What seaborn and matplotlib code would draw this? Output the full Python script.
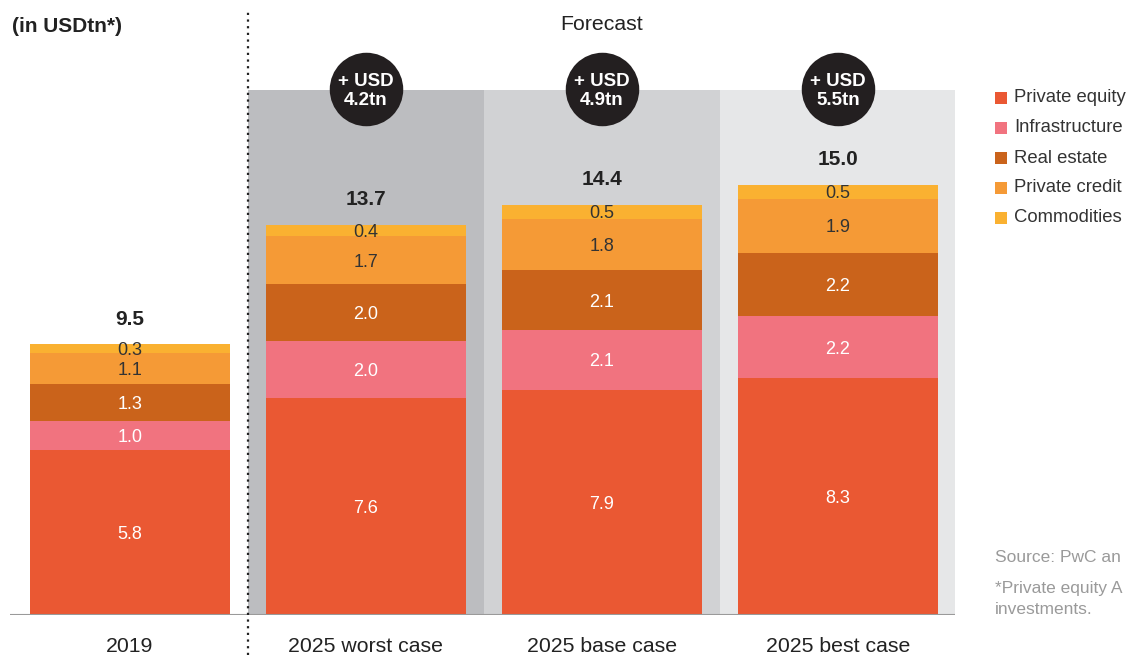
import numpy as np
import matplotlib
matplotlib.use("Agg")
import matplotlib.pyplot as plt
from matplotlib.patches import Rectangle
import seaborn as sns

# Assets under management by asset class (USD trillions)
categories = ["2019", "2025 worst case", "2025 base case", "2025 best case"]
asset_classes = ["Private equity", "Infrastructure", "Real estate", "Private credit", "Commodities"]
private_equity = [5.8, 7.6, 7.9, 8.3]
infrastructure = [1.0, 2.0, 2.1, 2.2]
real_estate = [1.3, 2.0, 2.1, 2.2]
private_credit = [1.1, 1.7, 1.8, 1.9]
commodities = [0.3, 0.4, 0.5, 0.5]
totals = ["9.5", "13.7", "14.4", "15.0"]
growth = ["4.2tn", "4.9tn", "5.5tn"]

colors = ["#EA5833", "#F1737F", "#CA631B", "#F59A36", "#FAB131"]
label_colors = ["white", "white", "white", "#333333", "#333333"]
panel_colors = ["#BCBDC0", "#D1D2D4", "#E6E7E8"]

sns.set_theme(style="white")
plt.rcParams["font.family"] = ["Liberation Sans", "DejaVu Sans"]

fig = plt.figure(figsize=(11.29, 6.55), dpi=100)
W, H = 1129, 655
ax = fig.add_axes([10 / W, 40 / H, 945 / W, 615 / H])
ymax = 21.58
px = 1 / 28.5  # data units per pixel on the value axis

layers = np.array([private_equity, infrastructure, real_estate, private_credit, commodities])
cum = np.cumsum(layers, axis=0)

# forecast panels behind the bars
panel_top = 18.42
for i, pc in enumerate(panel_colors):
    ax.axvspan(0.5 + i, 1.5 + i, ymin=0, ymax=panel_top / ymax, color=pc, lw=0, zorder=0)

# stacked bars: draw cumulative heights from the top layer down
for k in range(len(asset_classes) - 1, -1, -1):
    sns.barplot(x=categories, y=cum[k], order=categories, color=colors[k],
                width=0.847, saturation=1, ax=ax, zorder=2, linewidth=0)

# segment value labels
for k in range(len(asset_classes)):
    for i in range(len(categories)):
        bottom = cum[k][i] - layers[k][i]
        ax.text(i, bottom + layers[k][i] / 2 - 2 * px, f"{layers[k][i]:.1f}", ha="center",
                va="center", fontsize=13, color=label_colors[k], zorder=3)

# totals above bars
for i, t in enumerate(totals):
    ax.text(i, cum[-1][i] + 0.88, t, ha="center", va="center", fontsize=15,
            fontweight="bold", color="#222222", zorder=3)

# growth badges
badge_y = 18.45
for i, g in enumerate(growth):
    ax.scatter([i + 1], [badge_y], s=2800, color="#231F20", zorder=4, linewidths=0)
    ax.text(i + 1, badge_y + 7.5 * px, "+ USD", ha="center", va="center", fontsize=13.5,
            fontweight="bold", color="white", zorder=5)
    ax.text(i + 1, badge_y - 11.5 * px, g, ha="center", va="center", fontsize=13.5,
            fontweight="bold", color="white", zorder=5)

ax.axhline(0, color="#9A9A9A", lw=1.5, zorder=3)
ax.plot([0.5, 0.5], [-40 * px, 603 * px], color="#222222", lw=1.6, ls=(0, (1, 2)),
        clip_on=False, zorder=5)

ax.set_xlim(-0.508, 3.496)
ax.set_ylim(0, ymax)
ax.set_yticks([])
ax.set_xlabel("")
ax.set_ylabel("")
ax.tick_params(axis="x", length=0, pad=15.5, labelsize=15.3, labelcolor="#222222")
for s in ax.spines.values():
    s.set_visible(False)

ax.text(2, ymax - 25 * px, "Forecast", ha="center", va="center", fontsize=15.3, color="#222222")
fig.text(12 / W, 1 - 26 / H, "(in USDtn*)", ha="left", va="center", fontsize=15,
         fontweight="bold", color="#222222")

# legend
for j, (name, c) in enumerate(zip(asset_classes, colors)):
    yc = 98 + 30 * j
    fig.add_artist(Rectangle((995 / W, 1 - (yc + 6) / H), 12 / W, 12 / H,
                             transform=fig.transFigure, color=c, lw=0))
    fig.text(1014 / W, 1 - yc / H, name, ha="left", va="center", fontsize=13.3, color="#333333")

# notes
fig.text(995 / W, 1 - 558 / H, "Source: PwC an", ha="left", va="center",
         fontsize=12.5, color="#9A9A9A")
fig.text(995 / W, 1 - 588 / H, "*Private equity A", ha="left", va="center",
         fontsize=12.5, color="#9A9A9A")
fig.text(995 / W, 1 - 609 / H, "investments.", ha="left", va="center",
         fontsize=12.5, color="#9A9A9A")

fig.savefig("out.png", dpi=100)
